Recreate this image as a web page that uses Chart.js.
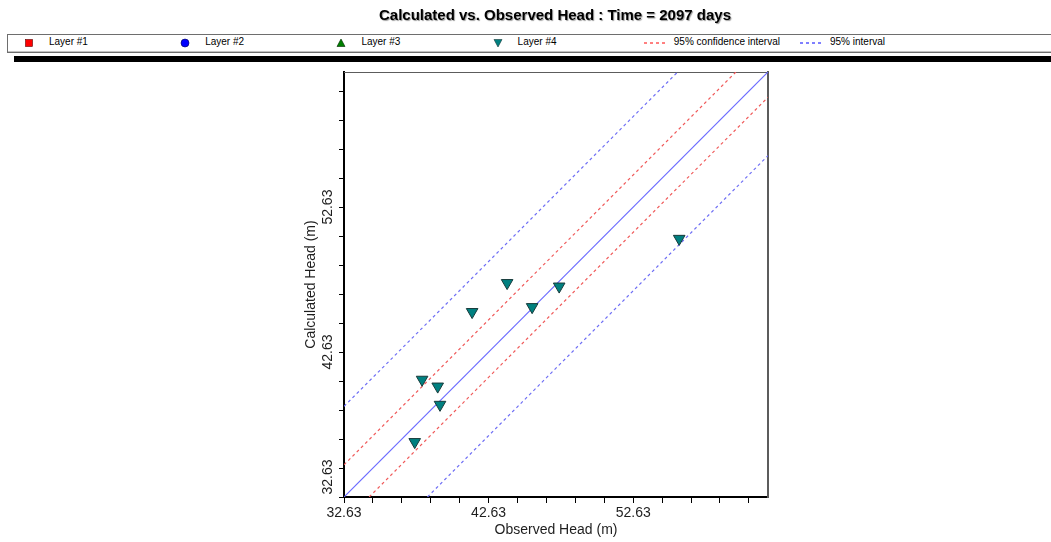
<!DOCTYPE html>
<html>
<head>
<meta charset="utf-8">
<title>Calculated vs. Observed Head</title>
<script src="https://cdn.jsdelivr.net/npm/chart.js@4.4.1/dist/chart.umd.min.js"></script>
<style>
  html, body { margin: 0; padding: 0; background: #fff; }
  body {
    position: relative;
    width: 1051px;
    height: 542px;
    overflow: hidden;
    font-family: "Liberation Sans", Arial, sans-serif;
  }
  #chartWrap { position: absolute; left: 0; top: 0; width: 1051px; height: 542px; }
  #title {
    position: absolute;
    left: 343px;
    top: 7px;
    width: 424px;
    text-align: center;
    white-space: nowrap;
    font-size: 15px;
    line-height: 16px;
    font-weight: bold;
    color: #000;
    text-shadow: 1px 1px 1px #9c9c9c;
  }
  #legend {
    position: absolute;
    left: 7px;
    top: 34px;
    width: 1060px;
    height: 17px;
    border: 1px solid #6e6e6e;
    box-shadow: inset 0 -1px 0 #c4c4c4;
    background: #fff;
  }
  .legend-item {
    position: absolute;
    top: 0;
    height: 14px;
    font-size: 10px;
    line-height: 14px;
    color: #000;
    white-space: nowrap;
  }
  .legend-item svg { position: absolute; left: 0; top: 1px; }
  .legend-item span { position: absolute; left: 30px; top: 0; }
  #bar { position: absolute; left: 14px; top: 56px; width: 1037px; height: 6px; background: #000; }
</style>
</head>
<body>
<div id="chartWrap"><canvas id="headChart"></canvas></div>
<div id="title">Calculated vs. Observed Head : Time = 2097 days</div>
<div id="legend"></div>
<div id="bar"></div>

<script>
const fontFamily = "'Liberation Sans', Arial, sans-serif";

// legend entries
const legendNames = ["Layer #1", "Layer #2", "Layer #3", "Layer #4", "95% confidence interval", "95% interval"];
const legendKinds = ["square", "circle", "triangle", "triangleDown", "redDash", "blueDash"];

// axis ticks (minor every 2 m, labelled every 10 m)
const tickValues = [32.63, 34.63, 36.63, 38.63, 40.63, 42.63, 44.63, 46.63, 48.63, 50.63, 52.63, 54.63, 56.63, 58.63, 60.63];
const tickLabels = ["32.63", "", "", "", "", "42.63", "", "", "", "", "52.63", "", "", "", ""];
const axisMin = 32.63;
const axisMax = 61.95;

// Layer #4 observations
const observedHead = [43.91, 41.49, 45.64, 47.51, 38.03, 39.11, 39.27, 37.52, 55.81];
const calculatedHead = [47.40, 45.40, 45.74, 47.16, 40.73, 40.26, 39.00, 36.43, 50.45];

// reference lines (end points)
const oneToOneLine = [{ x: 32.63, y: 32.63 }, { x: 61.95, y: 61.95 }];
const upperConfidence = [{ x: 32.63, y: 34.85 }, { x: 59.73, y: 61.95 }];
const lowerConfidence = [{ x: 34.37, y: 32.63 }, { x: 61.95, y: 60.21 }];
const upperInterval = [{ x: 32.63, y: 38.88 }, { x: 55.70, y: 61.95 }];
const lowerInterval = [{ x: 38.40, y: 32.63 }, { x: 61.95, y: 56.18 }];

const colors = {
  teal: "#008080",
  tealEdge: "#173a3a",
  line: "#6b6bff",
  red: "#f05a5a",
  blue: "#6e6ef5",
  text: "#1e1e1e",
};

function symbolSvg(kind) {
  const shapes = {
    square: '<rect x="6.5" y="3.5" width="7" height="7" fill="#ff0000" stroke="#5a0000" stroke-width="0.6"/>',
    circle: '<circle cx="10" cy="7" r="4" fill="#0000ff" stroke="#000050" stroke-width="0.6"/>',
    triangle: '<polygon points="10,3 14,10.5 6,10.5" fill="#008000" stroke="#002800" stroke-width="0.6"/>',
    triangleDown: '<polygon points="6,3.5 14,3.5 10,11" fill="#008080" stroke="#173a3a" stroke-width="0.6"/>',
    redDash: '<line x1="0" y1="7" x2="22" y2="7" stroke="#ff0000" stroke-width="1" stroke-dasharray="3 3"/>',
    blueDash: '<line x1="0" y1="7" x2="22" y2="7" stroke="#0000ff" stroke-width="1" stroke-dasharray="3 3"/>',
  };
  return `<svg width="22" height="14" viewBox="0 0 22 14">${shapes[kind]}</svg>`;
}

function renderLegend() {
  const legend = document.getElementById("legend");
  legendNames.forEach((name, i) => {
    const item = document.createElement("div");
    item.className = "legend-item";
    item.style.left = `${11 + i * 156.2}px`;
    item.innerHTML = `${symbolSvg(legendKinds[i])}<span>${name}</span>`;
    legend.appendChild(item);
  });
}

// the lowest y label is lifted so it stays beside the axis
const liftBottomLabel = {
  id: "liftBottomLabel",
  beforeDraw(chart) {
    const items = chart.scales.y.getLabelItems();
    const first = items[0];
    if (first && !first._lifted) {
      first.options.translation[1] -= 20;
      first._lifted = true;
    }
  },
};

function lineDataset(label, data, color, dash, width) {
  return {
    label,
    data,
    showLine: true,
    borderColor: color,
    borderWidth: width,
    borderDash: dash,
    pointRadius: 0,
    pointHoverRadius: 0,
    fill: false,
  };
}

function tickFont() {
  return { family: fontFamily, size: 14 };
}

function renderChart() {
  const ctx = document.getElementById("headChart");

  new Chart(ctx, {
    type: "scatter",
    plugins: [liftBottomLabel],
    data: {
      datasets: [
        {
          label: "Layer #4",
          data: observedHead.map((x, i) => ({ x, y: calculatedHead[i] })),
          pointStyle: "triangle",
          rotation: 180,
          radius: 6.7,
          backgroundColor: colors.teal,
          borderColor: colors.tealEdge,
          borderWidth: 1,
        },
        lineDataset("1:1", oneToOneLine, colors.line, [], 1.2),
        lineDataset("95% confidence interval", upperConfidence, colors.red, [3, 3], 1.2),
        lineDataset("95% confidence interval", lowerConfidence, colors.red, [3, 3], 1.2),
        lineDataset("95% interval", upperInterval, colors.blue, [3, 3], 1.2),
        lineDataset("95% interval", lowerInterval, colors.blue, [3, 3], 1.2),
      ],
    },
    options: {
      responsive: true,
      maintainAspectRatio: false,
      animation: false,
      events: [],
      layout: {
        padding: { left: 290, right: 283, top: 72, bottom: 0 },
      },
      scales: {
        x: {
          type: "linear",
          position: "bottom",
          min: axisMin,
          max: axisMax,
          afterBuildTicks: (scale) => {
            scale.ticks = tickValues.map((value) => ({ value }));
          },
          afterFit: (scale) => {
            scale.height = 45;
          },
          ticks: {
            autoSkip: false,
            minRotation: 0,
            maxRotation: 0,
            padding: 2,
            color: colors.text,
            font: tickFont(),
            callback: (_value, index) => tickLabels[index],
          },
          grid: {
            drawOnChartArea: false,
            drawTicks: true,
            tickLength: 6,
            color: "#000",
            lineWidth: 1,
          },
          border: { color: "#000", width: 2 },
          title: {
            display: true,
            text: "Observed Head (m)",
            color: colors.text,
            font: tickFont(),
            padding: { top: 0, bottom: 3 },
          },
        },
        y: {
          type: "linear",
          position: "left",
          min: axisMin,
          max: axisMax,
          afterBuildTicks: (scale) => {
            scale.ticks = tickValues.map((value) => ({ value }));
          },
          afterFit: (scale) => {
            scale.width = 54;
          },
          ticks: {
            autoSkip: false,
            minRotation: 90,
            maxRotation: 90,
            crossAlign: "center",
            padding: -7,
            color: colors.text,
            font: tickFont(),
            callback: (_value, index) => tickLabels[index],
          },
          grid: {
            drawOnChartArea: false,
            drawTicks: true,
            tickLength: 5,
            color: "#000",
            lineWidth: 1,
          },
          border: { color: "#000", width: 2 },
          title: {
            display: true,
            text: "Calculated Head (m)",
            color: colors.text,
            font: tickFont(),
            padding: { top: 13, bottom: 0 },
          },
        },
        x2: {
          type: "linear",
          position: "top",
          min: axisMin,
          max: axisMax,
          afterFit: (scale) => {
            scale.height = 0;
          },
          ticks: { display: false },
          grid: { display: false, drawTicks: false },
          border: { color: "#5c5c5c", width: 1 },
        },
        y2: {
          type: "linear",
          position: "right",
          min: axisMin,
          max: axisMax,
          afterFit: (scale) => {
            scale.width = 0;
          },
          ticks: { display: false },
          grid: { display: false, drawTicks: false },
          border: { color: "#5c5c5c", width: 2 },
        },
      },
      plugins: {
        legend: { display: false },
        title: { display: false },
        tooltip: { enabled: false },
      },
    },
  });
}

renderLegend();
renderChart();
</script>
</body>
</html>
